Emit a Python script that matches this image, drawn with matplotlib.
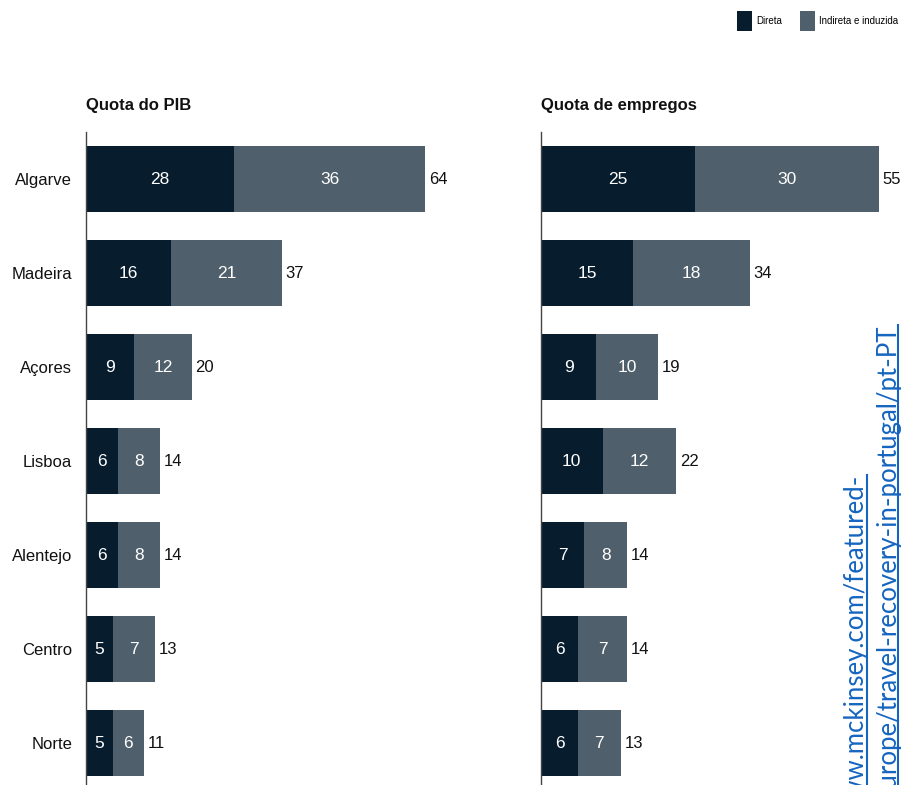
import matplotlib
matplotlib.use("Agg")
import matplotlib.pyplot as plt
from matplotlib.patches import Patch
from matplotlib.lines import Line2D

# ---------------- data ----------------
regions = ["Algarve", "Madeira", "Açores", "Lisboa", "Alentejo", "Centro", "Norte"]
pib_direta = [28, 16, 9, 6, 6, 5, 5]
pib_indireta = [36, 21, 12, 8, 8, 7, 6]
pib_total = [64, 37, 20, 14, 14, 13, 11]
emp_direta = [25, 15, 9, 10, 7, 6, 6]
emp_indireta = [30, 18, 10, 12, 8, 7, 7]
emp_total = [55, 34, 19, 22, 14, 14, 13]
legend_labels = ["Direta", "Indireta e induzida"]
panel_titles = ["Quota do PIB", "Quota de empregos"]
link_line1 = "www.mckinsey.com/featured-"
link_line2 = "insights/europe/travel-recovery-in-portugal/pt-PT"

C_DIR = "#071d2e"
C_IND = "#4f5f6b"
FONT = ["Liberation Sans Narrow", "Liberation Sans", "DejaVu Sans"]

W, H = 901, 785
fig = plt.figure(figsize=(W / 100, H / 100), dpi=100)
plt.rcParams["font.family"] = FONT


def fx(px):
    return px / W


def fy(py):
    return 1 - py / H


ax_bottom = -5 / H
ax_height = 658 / H
ax1 = fig.add_axes([fx(86), ax_bottom, 75 * 5.30 / W, ax_height])
ax2 = fig.add_axes([fx(541), ax_bottom, 58 * 6.15 / W, ax_height])


def panel(ax, direta, indireta, total, xmax, show_labels):
    y = list(range(len(regions)))
    rest = [t - d for t, d in zip(total, direta)]
    ax.barh(y, direta, height=0.70, color=C_DIR, edgecolor="none")
    ax.barh(y, rest, left=direta, height=0.70, color=C_IND, edgecolor="none")
    for i in y:
        ax.text(direta[i] / 2, i, str(direta[i]), ha="center", va="center",
                color="white", fontsize=12.5)
        ax.text(direta[i] + rest[i] / 2, i, str(indireta[i]), ha="center",
                va="center", color="white", fontsize=12.5)
        ax.annotate(str(total[i]), xy=(total[i], i), xytext=(2.5, 0),
                    textcoords="offset points", ha="left", va="center",
                    color="#111111", fontsize=12)
    ax.set_xlim(0, xmax)
    ax.set_ylim(len(regions) - 0.5, -0.5)
    ax.set_yticks(y)
    if show_labels:
        ax.set_yticklabels(regions, fontsize=12, color="#111111")
    else:
        ax.set_yticklabels([])
    ax.tick_params(axis="y", length=0, pad=10)
    ax.set_xticks([])
    for s in ["top", "right", "bottom"]:
        ax.spines[s].set_visible(False)
    ax.spines["left"].set_color("#444444")
    ax.spines["left"].set_linewidth(1.0)
    ax.patch.set_alpha(0)


panel(ax1, pib_direta, pib_indireta, pib_total, 75, True)
panel(ax2, emp_direta, emp_indireta, emp_total, 58, False)

fig.text(fx(86), fy(110), panel_titles[0], fontsize=12, fontweight="bold",
         ha="left", va="baseline", color="#111111")
fig.text(fx(541), fy(110), panel_titles[1], fontsize=12, fontweight="bold",
         ha="left", va="baseline", color="#111111")

handles = [Patch(facecolor=C_DIR, edgecolor="none"),
           Patch(facecolor=C_IND, edgecolor="none")]
fig.legend(handles, legend_labels, loc="upper right", bbox_to_anchor=(1.006, 0.997),
           ncol=2, frameon=False, fontsize=7, handlelength=1.55, handleheight=2.8,
           handletextpad=0.4, columnspacing=1.8, borderaxespad=0.5)

LINK = "#1565c0"
LFONT = ["Lato", "DejaVu Sans"]
t1 = fig.text(fx(864), fy(475), link_line1, rotation=90, rotation_mode="anchor",
              ha="right", va="baseline", color=LINK, fontsize=18.5, family=LFONT)
t2 = fig.text(fx(895), fy(325), link_line2, rotation=90, rotation_mode="anchor",
              ha="right", va="baseline", color=LINK, fontsize=18.5, family=LFONT)
fig.canvas.draw()
r = fig.canvas.get_renderer()
for t, xb in [(t1, 867), (t2, 898)]:
    bb = t.get_window_extent(r)
    fig.add_artist(Line2D([fx(xb), fx(xb)], [0, bb.y1 / H], transform=fig.transFigure,
                          color=LINK, linewidth=1.5))

fig.savefig("out.png", dpi=100)
